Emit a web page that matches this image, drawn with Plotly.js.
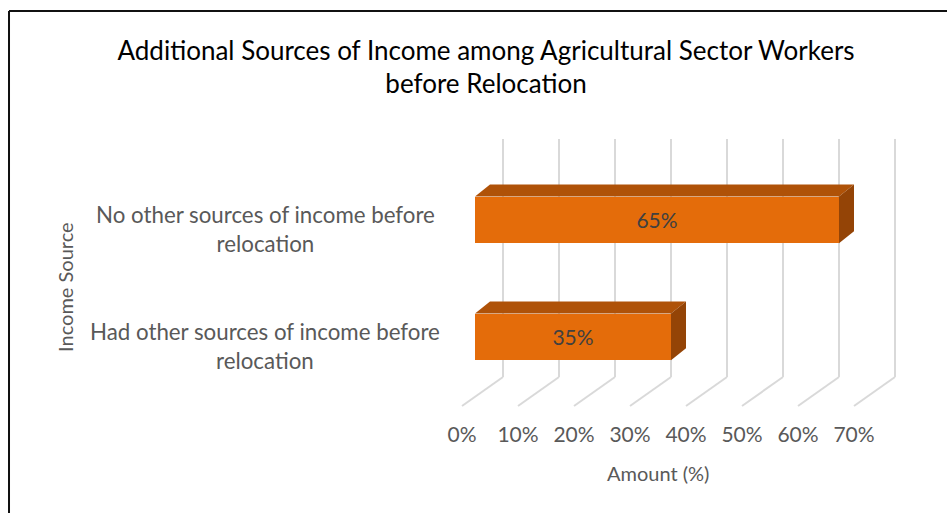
<!DOCTYPE html>
<html><head><meta charset="utf-8">
<script src="https://cdn.plot.ly/plotly-3.0.1.min.js"></script>
<style>html,body{margin:0;padding:0;background:#fff}#chart{width:947px;height:513px}</style>
</head><body><div id="chart"></div>
<script>
// ---- data ----
const categories = ["Had other sources of income before relocation", "No other sources of income before relocation"];
const categoryLabels = ["Had other sources of income before<br>relocation", "No other sources of income before<br>relocation"];
const values = [35, 65];
const valueLabels = ["35%", "65%"];
const tickValues = [0, 10, 20, 30, 40, 50, 60, 70];
const tickLabels = ["0%", "10%", "20%", "30%", "40%", "50%", "60%", "70%"];

// ---- 3D look (styling offsets, in axis units) ----
const FONT = "Lato, 'Open Sans', sans-serif";
const BAR_W = 0.4;
const DEPTH_X = 2.68, DEPTH_Y = 0.1026;
const WALL_X = 5, WALL_BOTTOM = -0.342, WALL_TOP = 1.692;
const FLOOR_X = -2.32, FLOOR_Y = -0.59;
const FRONT = "#E46C0A", TOP = "#AF5208", SIDE = "#944406", GRID = "#D9D9D9";

const pos = categories.map((c, i) => i);
const h = BAR_W / 2;

const traces = [];
// top and side faces
values.forEach((v, i) => {
  const y = pos[i];
  traces.push({
    type: "scatter", mode: "lines", fill: "toself", fillcolor: TOP,
    line: {width: 0, color: TOP}, hoverinfo: "skip", showlegend: false,
    x: [0, v, v + DEPTH_X, DEPTH_X, 0],
    y: [y + h, y + h, y + h + DEPTH_Y, y + h + DEPTH_Y, y + h]
  });
  traces.push({
    type: "scatter", mode: "lines", fill: "toself", fillcolor: SIDE,
    line: {width: 0, color: SIDE}, hoverinfo: "skip", showlegend: false,
    x: [v, v + DEPTH_X, v + DEPTH_X, v, v],
    y: [y - h, y - h + DEPTH_Y, y + h + DEPTH_Y, y + h, y - h]
  });
});
// front faces
traces.push({
  type: "bar", orientation: "h", x: values, y: pos, width: BAR_W,
  name: "Amount (%)", showlegend: false,
  marker: {color: FRONT, line: {width: 0}},
  text: valueLabels, textposition: "inside", insidetextanchor: "middle", textangle: 0,
  textfont: {family: FONT, size: 21, color: "#404040"},
  hovertemplate: "%{text}<extra></extra>"
});

const shapes = [];
tickValues.forEach(t => {
  shapes.push({type: "line", layer: "below", xref: "x", yref: "y",
    x0: t + WALL_X, x1: t + WALL_X, y0: WALL_BOTTOM, y1: WALL_TOP,
    line: {color: GRID, width: 2}});
  shapes.push({type: "line", layer: "below", xref: "x", yref: "y",
    x0: t + WALL_X, x1: t + FLOOR_X, y0: WALL_BOTTOM, y1: FLOOR_Y,
    line: {color: GRID, width: 2}});
});
// chart frame (left and top edges)
shapes.push({type: "line", xref: "paper", yref: "paper", x0: -0.917, x1: -0.917, y0: -0.5, y1: 1.4255, line: {color: "#111", width: 2}});
shapes.push({type: "line", xref: "paper", yref: "paper", x0: -0.917, x1: 1.2, y0: 1.4255, y1: 1.4255, line: {color: "#111", width: 2}});

const annotations = categoryLabels.map((t, i) => ({
  text: t, xref: "paper", x: -0.3723, xanchor: "center", yref: "y", y: pos[i], yshift: -9,
  yanchor: "middle", align: "center", showarrow: false,
  font: {family: FONT, size: 22.3, color: "#595959"}
}));
annotations.push({text: "Amount (%)", xref: "x", x: (tickValues[0] + tickValues[tickValues.length - 1]) / 2 + FLOOR_X,
  yref: "paper", y: -0.2128, xanchor: "center", yanchor: "middle", showarrow: false,
  font: {family: FONT, size: 20, color: "#595959"}});
annotations.push({text: "Income Source", xref: "paper", x: -0.798, yref: "paper", y: 0.4468, textangle: -90,
  xanchor: "center", yanchor: "middle", showarrow: false,
  font: {family: FONT, size: 20, color: "#595959"}});

const layout = {
  width: 947, height: 513,
  margin: {l: 440, r: 37, t: 131, b: 100},
  paper_bgcolor: "#fff", plot_bgcolor: "#fff",
  title: {
    text: "Additional Sources of Income among Agricultural Sector Workers<br>before Relocation",
    xref: "paper", x: 0.098, xanchor: "center",
    yref: "container", y: 0.884, yanchor: "middle",
    font: {family: FONT, size: 26, color: "#000"}
  },
  xaxis: {
    range: [-6.25, 77.68], showgrid: false, zeroline: false, showline: false,
    tickmode: "array", tickvals: tickValues, ticktext: tickLabels, ticks: "",
    ticklabelshift: -13, ticklabelstandoff: 7,
    tickfont: {family: FONT, size: 21, color: "#595959"}, fixedrange: true
  },
  yaxis: {
    range: [-0.65, 1.76], showgrid: false, zeroline: false, showline: false,
    showticklabels: false, ticks: "", fixedrange: true
  },
  shapes: shapes,
  annotations: annotations,
  showlegend: false,
  bargap: 0
};

Plotly.newPlot("chart", traces, layout, {displayModeBar: false, staticPlot: true});
</script>
</body></html>
